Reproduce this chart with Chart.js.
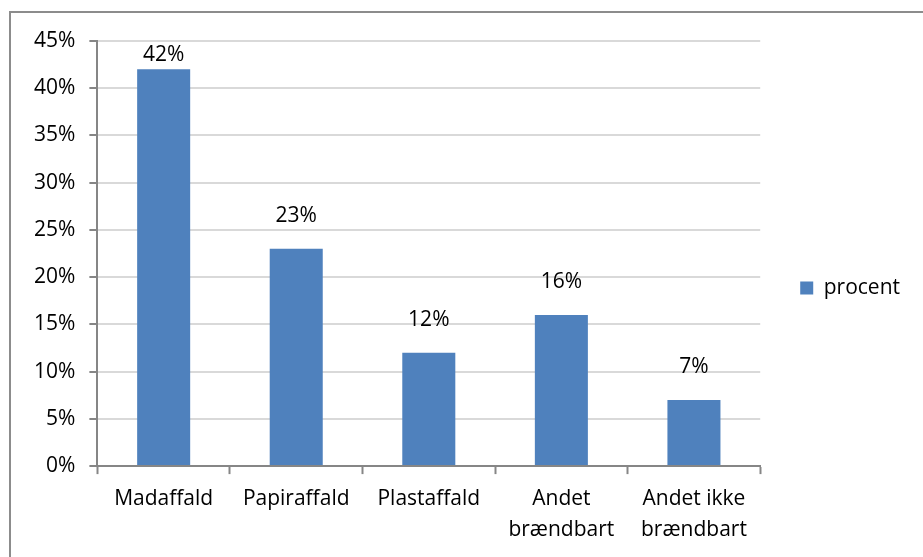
<!DOCTYPE html>
<html>
<head>
<meta charset="utf-8">
<title>Affald</title>
<script src="https://cdn.jsdelivr.net/npm/chart.js"></script>
<style>
  body { margin: 0; background: #fff; }
  #wrap { position: absolute; left: 0; top: 0; width: 923px; height: 557px; }
  #frame { position: absolute; left: 9px; top: 11px; width: 1000px; height: 1000px;
           border: 2px solid #8c8c8c; box-sizing: border-box; }
</style>
</head>
<body>
<div id="frame"></div>
<div id="wrap"><canvas id="myChart"></canvas></div>
<script>
var categories = ['Madaffald', 'Papiraffald', 'Plastaffald', ['Andet', 'brændbart'], ['Andet ikke', 'brændbart']];
var procent = [42, 23, 12, 16, 7];
var seriesName = 'procent';

// labels above the bars, like excel does it
var barLabels = {
  id: 'barLabels',
  afterDatasetsDraw: function(chart) {
    var ctx = chart.ctx;
    var meta = chart.getDatasetMeta(0);
    ctx.save();
    ctx.font = '21px "Open Sans"';
    ctx.fillStyle = '#000';
    ctx.textAlign = 'center';
    ctx.textBaseline = 'middle';
    meta.data.forEach(function(bar, i) {
      var y = Math.max(bar.y - 33, chart.chartArea.top + 14);
      ctx.fillText(procent[i] + '%', bar.x, y);
    });
    ctx.restore();
  }
};

var ctx = document.getElementById('myChart');
new Chart(ctx, {
  type: 'bar',
  data: {
    labels: categories,
    datasets: [{
      label: seriesName,
      data: procent,
      backgroundColor: '#4f81bd',
      borderWidth: 0,
      barPercentage: 0.4,
      categoryPercentage: 1
    }]
  },
  options: {
    responsive: true,
    maintainAspectRatio: false,
    animation: false,
    layout: { padding: { left: 20, top: 21, right: 13, bottom: 2 } },
    plugins: {
      tooltip: { enabled: false },
      legend: {
        position: 'right',
        labels: {
          boxWidth: 13,
          boxHeight: 13,
          padding: 40,
          color: '#000',
          font: { family: 'Open Sans', size: 21 }
        }
      }
    },
    scales: {
      x: {
        grid: { display: true, drawOnChartArea: false, tickColor: '#868686', tickLength: 8, tickWidth: 2 },
        border: { color: '#868686', width: 2 },
        ticks: { color: '#000', padding: 10, maxRotation: 0, autoSkip: false,
                 font: { family: 'Open Sans', size: 21, lineHeight: 1.45 } }
      },
      // empty top axis, only to leave room above the plot without moving the legend
      xTop: {
        position: 'top',
        grid: { display: false },
        border: { display: false },
        ticks: { display: false },
        afterFit: function(scale) { scale.height = 20; }
      },
      y: {
        min: 0,
        max: 45,
        grid: { color: '#d9d9d9', lineWidth: 2, tickColor: '#868686', tickLength: 8, tickWidth: 2 },
        border: { color: '#868686', width: 2 },
        ticks: { stepSize: 5, color: '#000', padding: 14,
                 font: { family: 'Open Sans', size: 21 },
                 callback: function(v) { return v + '%'; } }
      }
    }
  },
  plugins: [barLabels]
});
</script>
</body>
</html>
